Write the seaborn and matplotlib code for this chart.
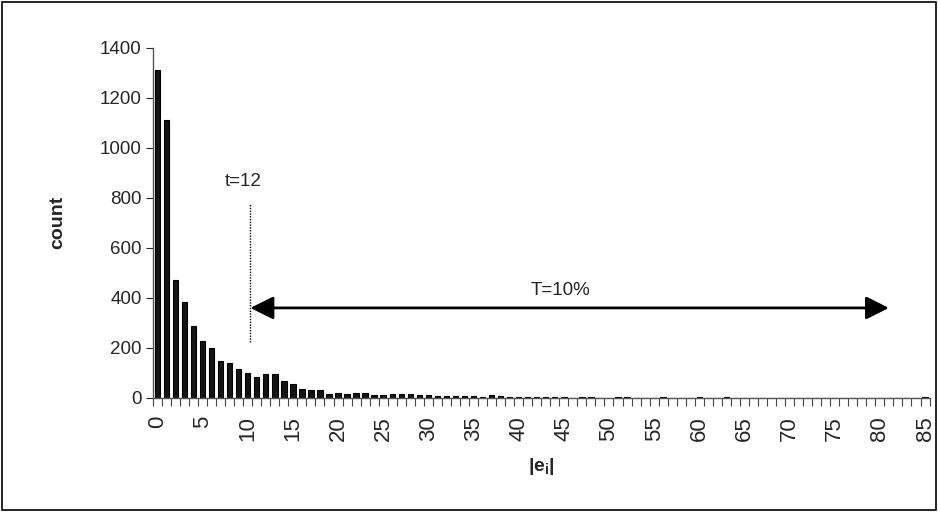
import numpy as np
import pandas as pd
import matplotlib
matplotlib.use('Agg')
import matplotlib.pyplot as plt
import seaborn as sns
from matplotlib.patches import Rectangle

# |e| values and their counts
error_values = list(range(86))
counts = [1310, 1110, 470, 385, 288, 227, 200, 147, 140, 117,
          100, 83, 95, 94, 66, 56, 37, 30, 31, 17,
          21, 17, 20, 18, 10, 12, 15, 17, 15, 10,
          11, 6, 9, 6, 6, 6, 5, 10, 6, 5,
          5, 5, 5, 5, 5, 5, 0, 4, 4, 0,
          0, 4, 4, 0, 0, 0, 3, 0, 0, 0,
          3, 0, 0, 3, 0, 0, 0, 0, 0, 0,
          0, 0, 0, 0, 0, 0, 0, 0, 0, 0,
          0, 0, 0, 0, 0, 3]
y_ticks = [0, 200, 400, 600, 800, 1000, 1200, 1400]
x_label_every = 5

df = pd.DataFrame({'err': error_values, 'count': counts})

sns.set_style('white')
plt.rcParams['font.family'] = ['Liberation Sans', 'DejaVu Sans']
plt.rcParams['mathtext.fontset'] = 'custom'
plt.rcParams['mathtext.rm'] = 'Liberation Sans'
plt.rcParams['mathtext.bf'] = 'Liberation Sans:bold'

fig = plt.figure(figsize=(9.38, 5.12), dpi=100)
ax = fig.add_axes([0.163, 0.2227, 0.828, 0.684])

sns.barplot(data=df, x='err', y='count', color='#141414', edgecolor='black',
            linewidth=0.8, width=0.6, saturation=1, ax=ax)

ax.set_xlim(-0.5, len(error_values) - 0.5)
ax.set_ylim(0, 1400)
ax.set_yticks(y_ticks)
ax.tick_params(axis='y', labelsize=13.5, length=5, width=0.8, direction='out', left=True, pad=3)

# labels every 5 at bar centres, small ticks between categories
label_pos = [v for v in error_values if v % x_label_every == 0]
ax.set_xticks(label_pos)
ax.set_xticklabels([str(v) for v in label_pos], rotation=90, fontsize=16)
ax.tick_params(axis='x', which='major', length=0, pad=13)
ax.set_xticks(np.arange(-0.5, len(error_values), 1), minor=True)
ax.tick_params(axis='x', which='minor', length=6, width=0.8, direction='out', bottom=True, color='#444444')

for s in ['top', 'right']:
    ax.spines[s].set_visible(False)
for s in ['left', 'bottom']:
    ax.spines[s].set_color('#555555')
    ax.spines[s].set_linewidth(1.0)

ax.set_xlabel(r'$\mathbf{|e_i|}$', fontsize=14, fontweight='bold', labelpad=11)
ax.set_ylabel('count', fontsize=14, fontweight='bold', labelpad=24)

# threshold annotations
ax.plot([10.3, 10.3], [222, 780], linestyle=(0, (1, 1)), color='black', linewidth=1)
ax.text(9.5, 864, 't=12', ha='center', va='center', fontsize=13.5)
ax.annotate('', xy=(10.3, 360), xytext=(81.0, 360),
            arrowprops=dict(arrowstyle='<|-|>,head_length=1.0,head_width=0.5',
                            color='black', linewidth=2, mutation_scale=14,
                            shrinkA=0, shrinkB=0))
ax.text(44.6, 431, 'T=10%', ha='center', va='center', fontsize=13.5)

# outer frame
fig.patches.append(Rectangle((0.002, 0.003), 0.996, 0.994, transform=fig.transFigure,
                             fill=False, edgecolor='black', linewidth=1.2))

fig.savefig('out.png', dpi=100)
